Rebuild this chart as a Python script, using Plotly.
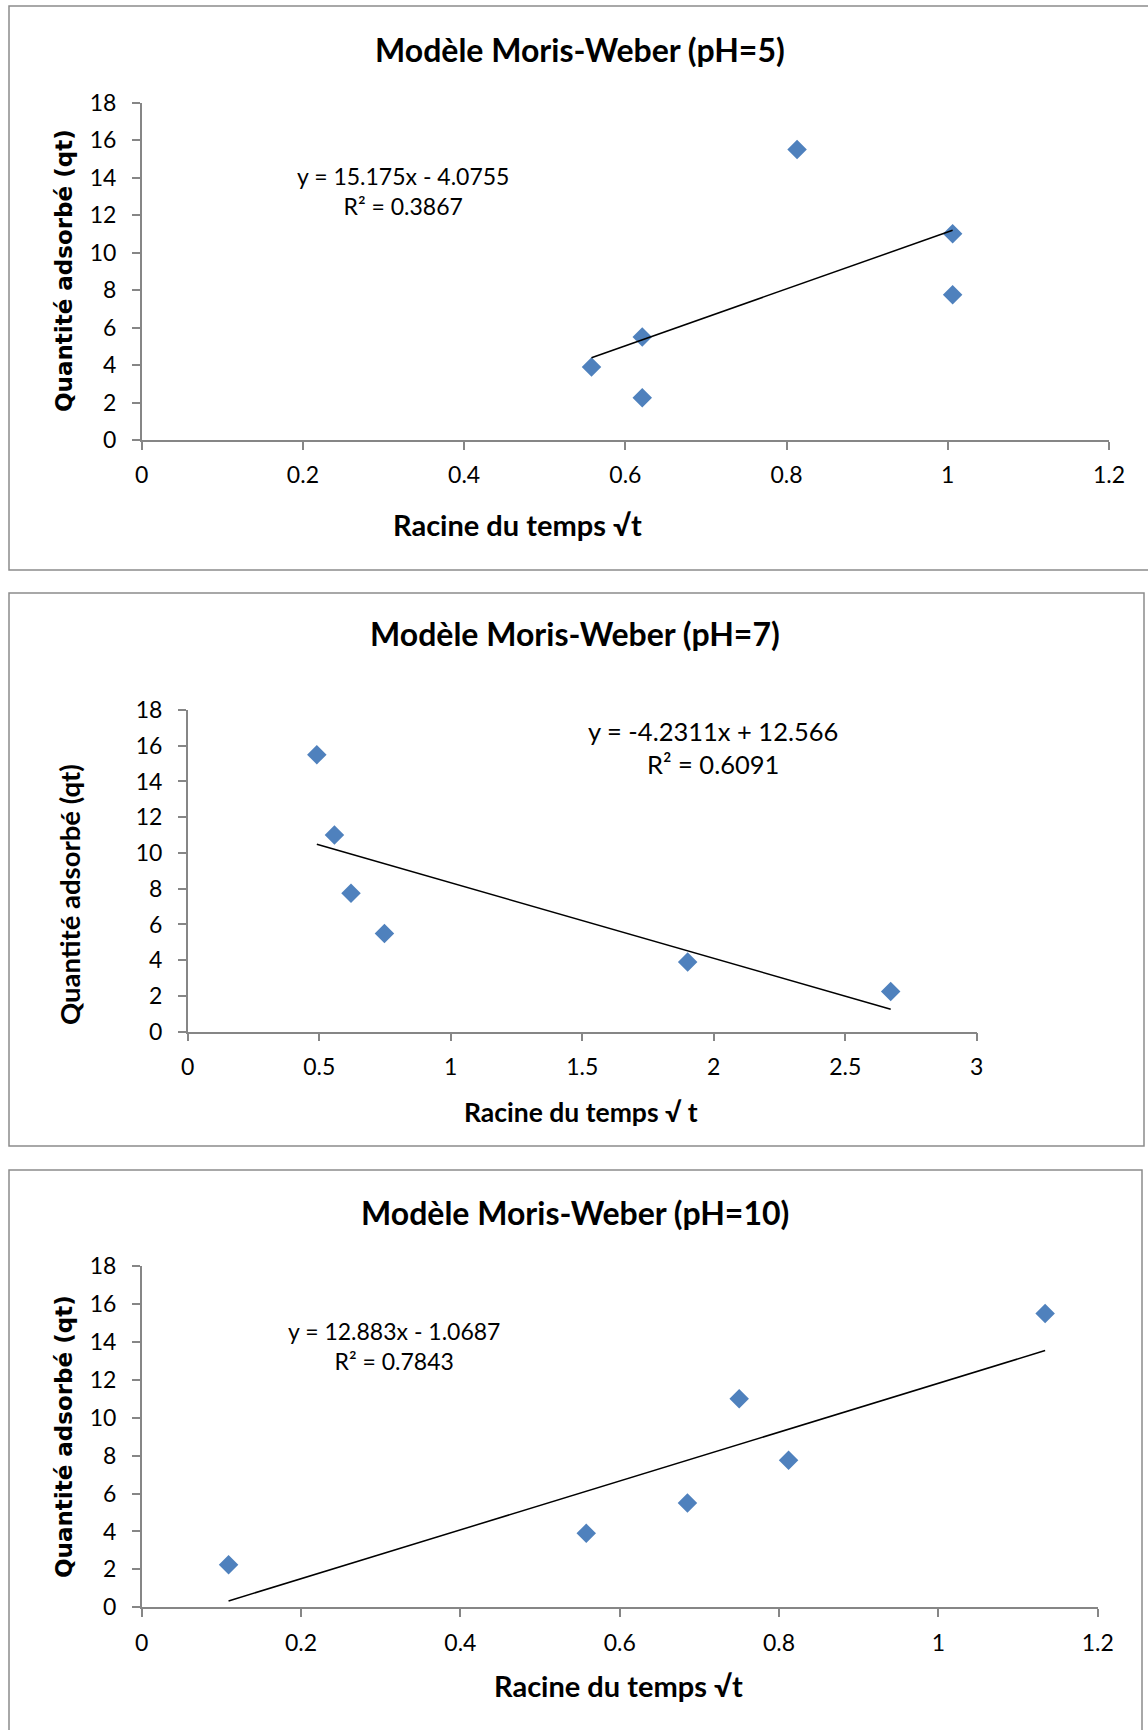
import plotly.graph_objects as go

W, H = 1148, 1730

# ---- data ----
x_ph5 = [0.558, 0.621, 0.621, 0.813, 1.006, 1.006]
y_ph5 = [3.9, 5.5, 2.25, 15.5, 11.0, 7.75]
x_ph7 = [0.491, 0.558, 0.621, 0.748, 1.901, 2.673]
y_ph7 = [15.5, 11.0, 7.75, 5.5, 3.9, 2.25]
x_ph10 = [0.109, 0.558, 0.685, 0.750, 0.812, 1.134]
y_ph10 = [2.25, 3.9, 5.5, 11.0, 7.75, 15.5]

slope_ph5, icpt_ph5, r2_ph5 = 15.175, -4.0755, 0.3867
slope_ph7, icpt_ph7, r2_ph7 = -4.2311, 12.566, 0.6091
slope_ph10, icpt_ph10, r2_ph10 = 12.883, -1.0687, 0.7843

titles = ["Modèle Moris-Weber (pH=5)", "Modèle Moris-Weber (pH=7)", "Modèle Moris-Weber (pH=10)"]
x_titles = ["Racine du temps √t", "Racine du temps √ t", "Racine du temps √t"]
y_title = "Quantité adsorbé (qt)"
eq_texts = ["y = 15.175x - 4.0755<br>R² = 0.3867",
            "y = -4.2311x + 12.566<br>R² = 0.6091",
            "y = 12.883x - 1.0687<br>R² = 0.7843"]
x_ranges = [[0, 1.2], [0, 3], [0, 1.2]]
x_dticks = [0.2, 0.5, 0.2]

def px(x):
    return x / W

def py(y):
    return 1 - y / H

FONT = "Lato"
BLUE = "#4F81BD"
AXC = "#868686"

fig = go.Figure()

panels = [
    dict(x=x_ph5, y=y_ph5, m=slope_ph5, b=icpt_ph5,
         xd=[141.7, 1109], yd=[440, 102.7],
         frame=[9, 6, 1152, 570],
         title=(580, 49), xt=(517.5, 524.5), yt=(64, 271), eq=(403, 190.5),
         tsize=32, xtsize=29, ytfont=("DejaVu Sans", 23), eqsize=23),
    dict(x=x_ph7, y=y_ph7, m=slope_ph7, b=icpt_ph7,
         xd=[187.7, 976.7], yd=[1031.7, 710],
         frame=[9, 593, 1144, 1146],
         title=(575, 633), xt=(581, 1112), yt=(69, 895), eq=(713, 747),
         tsize=32, xtsize=26.5, ytfont=("Lato", 27.5), eqsize=25.5),
    dict(x=x_ph10, y=y_ph10, m=slope_ph10, b=icpt_ph10,
         xd=[141.7, 1097.7], yd=[1607.3, 1266],
         frame=[9, 1170, 1142, 1740],
         title=(575, 1212.5), xt=(618.4, 1685.5), yt=(64, 1437), eq=(394, 1345.5),
         tsize=32, xtsize=29, ytfont=("DejaVu Sans", 23), eqsize=23),
]

layout_axes = {}
annotations = []
shapes = []
for i, p in enumerate(panels):
    k = "" if i == 0 else str(i + 1)
    xa, ya = "x" + k, "y" + k
    fig.add_trace(go.Scatter(
        x=p["x"], y=p["y"], mode="markers", xaxis=xa, yaxis=ya,
        marker=dict(symbol="diamond", size=15, color=BLUE,
                    line=dict(width=0)),
        showlegend=False, cliponaxis=False))
    xmin, xmax = min(p["x"]), max(p["x"])
    fig.add_trace(go.Scatter(
        x=[xmin, xmax], y=[p["m"] * xmin + p["b"], p["m"] * xmax + p["b"]],
        mode="lines", xaxis=xa, yaxis=ya,
        line=dict(color="black", width=1.5),
        showlegend=False, cliponaxis=False))

    layout_axes["xaxis" + k] = dict(
        domain=[px(p["xd"][0]), px(p["xd"][1])],
        anchor=ya, range=x_ranges[i], dtick=x_dticks[i], tick0=0,
        showgrid=False, zeroline=False, showline=True, linecolor=AXC, linewidth=1.5,
        ticks="outside", ticklen=8, tickcolor=AXC, tickwidth=1.5,
        tickfont=dict(family=FONT, size=23, color="black"),
        ticklabelstandoff=6, fixedrange=True, automargin=False)
    layout_axes["yaxis" + k] = dict(
        domain=[py(p["yd"][0]), py(p["yd"][1])],
        anchor=xa, range=[0, 18], dtick=2, tick0=0,
        showgrid=False, zeroline=False, showline=True, linecolor=AXC, linewidth=1.5,
        ticks="outside", ticklen=8, tickcolor=AXC, tickwidth=1.5,
        tickfont=dict(family=FONT, size=23, color="black"),
        ticklabelstandoff=11, fixedrange=True, automargin=False)

    f = p["frame"]
    shapes.append(dict(type="rect", xref="paper", yref="paper",
                       x0=px(f[0]), x1=px(f[2]), y0=py(f[3]), y1=py(f[1]),
                       line=dict(color="#8C8C8C", width=1.5), layer="below"))

    annotations.append(dict(text="<b>" + titles[i] + "</b>", xref="paper", yref="paper",
                            x=px(p["title"][0]), y=py(p["title"][1]),
                            xanchor="center", yanchor="middle", showarrow=False,
                            font=dict(family=FONT, size=p["tsize"], color="black")))
    annotations.append(dict(text="<b>" + x_titles[i] + "</b>", xref="paper", yref="paper",
                            x=px(p["xt"][0]), y=py(p["xt"][1]),
                            xanchor="center", yanchor="middle", showarrow=False,
                            font=dict(family=FONT, size=p["xtsize"], color="black")))
    annotations.append(dict(text="<b>" + y_title + "</b>", xref="paper", yref="paper",
                            x=px(p["yt"][0]), y=py(p["yt"][1]), textangle=-90,
                            xanchor="center", yanchor="middle", showarrow=False,
                            font=dict(family=p["ytfont"][0], size=p["ytfont"][1],
                                      color="black")))
    annotations.append(dict(text=eq_texts[i], xref="paper", yref="paper",
                            x=px(p["eq"][0]), y=py(p["eq"][1]),
                            xanchor="center", yanchor="middle", align="center",
                            showarrow=False,
                            font=dict(family=FONT, size=p["eqsize"], color="black")))

fig.update_layout(
    width=W, height=H, margin=dict(l=0, r=0, t=0, b=0, pad=0, autoexpand=False),
    autosize=False,
    paper_bgcolor="white", plot_bgcolor="white",
    showlegend=False, annotations=annotations, shapes=shapes,
    **layout_axes)

fig.write_html("out.html", config={"displayModeBar": False, "responsive": False})
